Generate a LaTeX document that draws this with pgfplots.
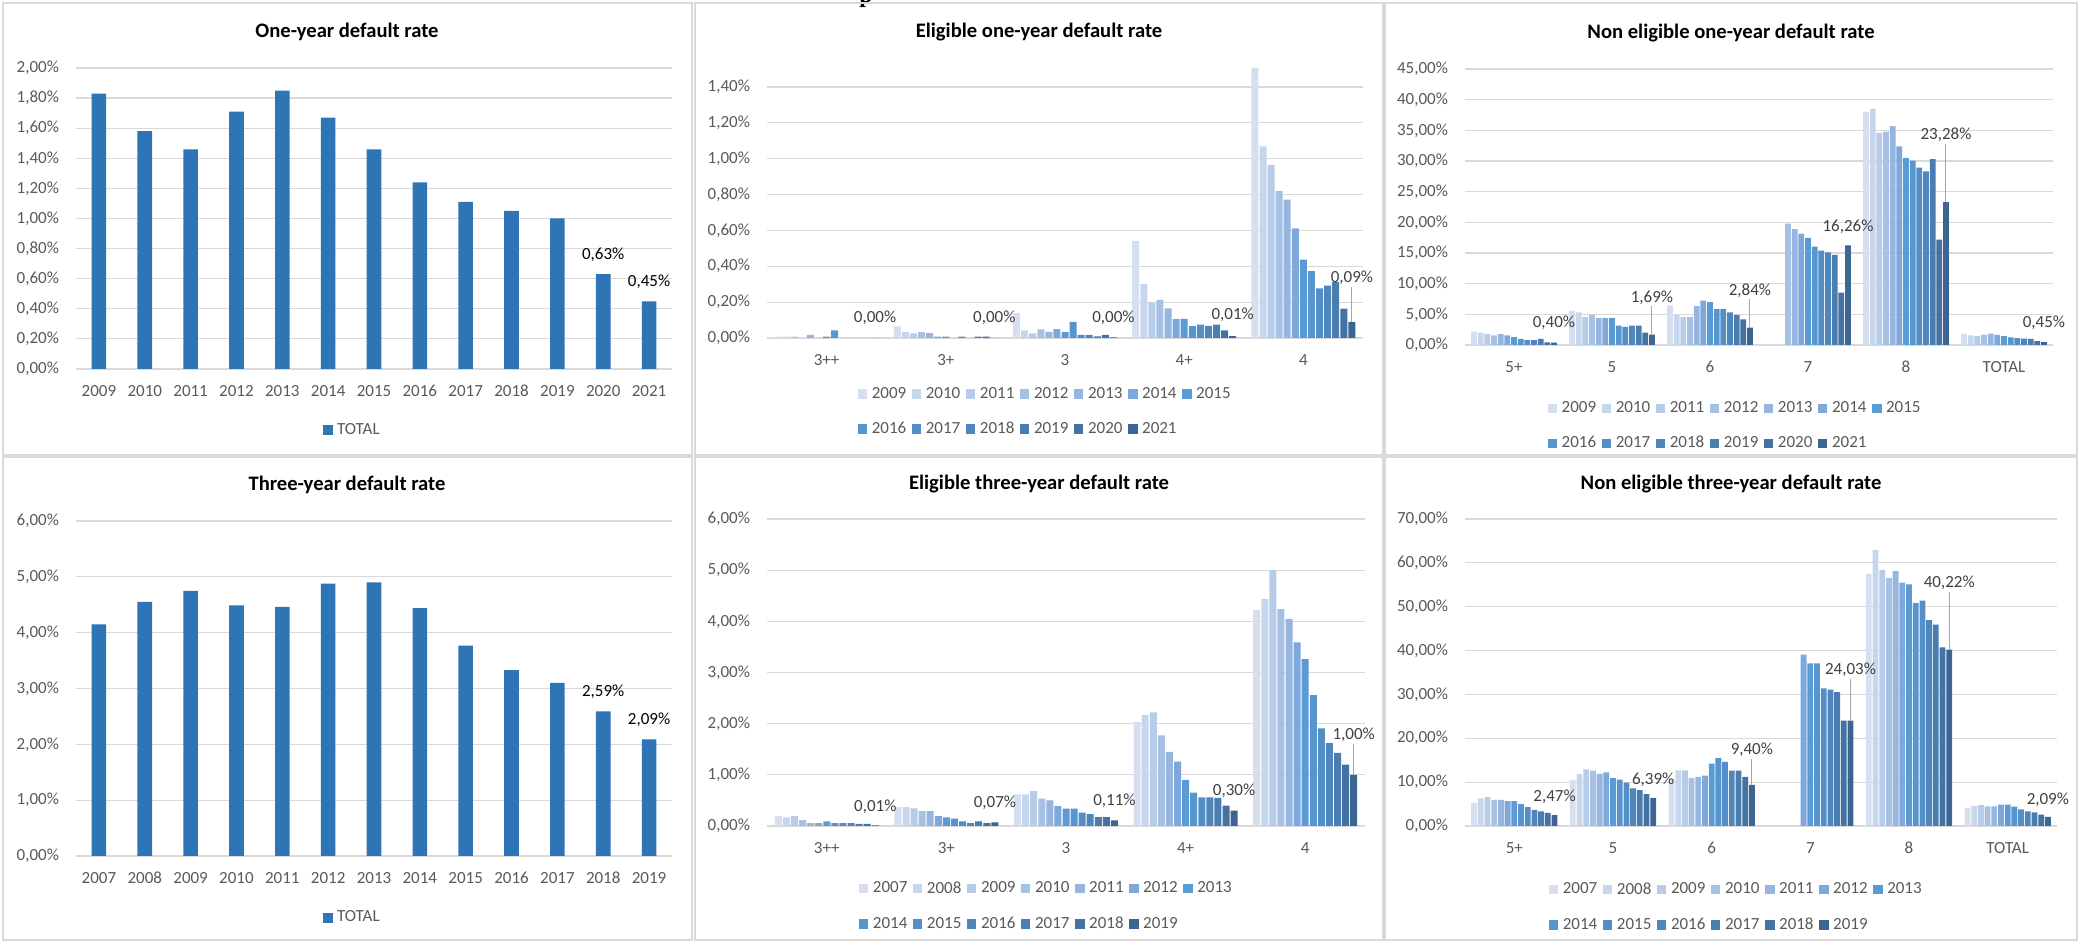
\documentclass[border=0pt]{standalone}
\usepackage{fontspec}
\setmainfont{Carlito}
\newfontfamily\headserif{Liberation Serif}
\usepackage{pgfplots}
\usepackage{pgfplotstable}
\pgfplotsset{compat=1.18}

\definecolor{c0}{HTML}{D5DFF0}
\definecolor{c1}{HTML}{C6D6EC}
\definecolor{c2}{HTML}{B7CCE8}
\definecolor{c3}{HTML}{A7C1E4}
\definecolor{c4}{HTML}{96B5DF}
\definecolor{c5}{HTML}{7EA8DB}
\definecolor{c6}{HTML}{5B9BD5}
\definecolor{c7}{HTML}{5795CF}
\definecolor{c8}{HTML}{538EC6}
\definecolor{c9}{HTML}{4F86BC}
\definecolor{c10}{HTML}{4A7DB0}
\definecolor{c11}{HTML}{4472A2}
\definecolor{c12}{HTML}{3C6691}
\definecolor{tot}{HTML}{2E75B6}
\definecolor{gridc}{HTML}{D9D9D9}
\definecolor{tickc}{HTML}{595959}
\definecolor{labc}{HTML}{404040}
\definecolor{leader}{HTML}{A6A6A6}

\newcommand\tickfont{\fontsize{8.5}{10}\selectfont}
\newcommand\titlefont{\fontsize{10.3}{12}\selectfont\bfseries}

% ---------------- data ----------------
\pgfplotstableread{
x v lab
0 1.83 {}
1 1.58 {}
2 1.46 {}
3 1.71 {}
4 1.85 {}
5 1.67 {}
6 1.46 {}
7 1.24 {}
8 1.11 {}
9 1.05 {}
10 1.00 {}
11 0.63 0,63\%
12 0.45 0,45\%
}\oneyear

\pgfplotstableread{
x v lab
0 4.15 {}
1 4.55 {}
2 4.75 {}
3 4.49 {}
4 4.46 {}
5 4.88 {}
6 4.90 {}
7 4.44 {}
8 3.77 {}
9 3.33 {}
10 3.10 {}
11 2.59 2,59\%
12 2.09 2,09\%
}\threeyear

% eligible one-year: 3++, 3+, 3, 4+, 4 ; series 2009..2021 = c0..c12
\pgfplotstableread{
x c0 c1 c2 c3 c4 c5 c6 c7 c8 c9 c10 c11 c12 lo el
0 0.007 0.007 0.007 nan 0.017 nan 0.008 0.042 nan nan nan nan 0 6.5 0
1 0.065 0.033 0.026 0.033 0.027 0.008 0.008 nan 0.008 nan 0.008 0.008 0 6.5 0
2 0.138 0.043 0.026 0.048 0.034 0.049 0.033 0.090 0.017 0.017 0.009 0.017 0.004 6 0
3 0.54 0.30 0.197 0.212 0.165 0.106 0.106 0.066 0.074 0.068 0.074 0.043 0.01 7 0
4 1.506 1.068 0.964 0.819 0.772 0.611 0.437 0.373 0.277 0.292 0.312 0.164 0.09 18.5 0.195
}\eligone

% non eligible one-year: 5+, 5, 6, 7, 8, TOTAL ; series 2009..2021
\pgfplotstableread{
x c0 c1 c2 c3 c4 c5 c6 c7 c8 c9 c10 c11 c12 lo el
0 2.17 2.00 1.78 1.56 1.78 1.56 1.28 1.00 0.80 0.80 1.00 0.42 0.40 6 0
1 5.60 5.33 4.60 4.90 4.40 4.40 4.40 3.17 2.95 3.17 3.17 2.00 1.69 15 4.6
2 6.44 4.90 4.60 4.60 6.33 7.25 7.00 5.83 5.83 5.33 4.90 4.17 2.84 15 4.6
3 nan nan nan 19.80 18.90 18.15 17.45 16.05 15.40 15.10 14.70 8.55 16.26 5.5 0
4 38.00 38.50 34.60 34.80 35.70 32.40 30.50 30.05 28.90 28.30 30.30 17.20 23.28 30 9.5
5 1.83 1.58 1.46 1.71 1.85 1.67 1.46 1.24 1.11 1.05 1.00 0.63 0.45 6 0
}\neligone

% eligible three-year: 3++, 3+, 3, 4+, 4 ; series 2007..2019
\pgfplotstableread{
x c0 c1 c2 c3 c4 c5 c6 c7 c8 c9 c10 c11 c12 lo el
0 0.194 0.168 0.194 0.116 0.058 0.058 0.090 0.058 0.058 0.058 0.040 0.040 0.01 5.5 0
1 0.368 0.368 0.342 0.290 0.290 0.194 0.168 0.142 0.090 0.058 0.090 0.058 0.07 6.3 0
2 0.62 0.62 0.68 0.535 0.50 0.39 0.34 0.34 0.26 0.23 0.175 0.175 0.11 6 0
3 2.03 2.17 2.22 1.77 1.45 1.26 0.90 0.65 0.56 0.56 0.55 0.40 0.30 6.5 0
4 4.22 4.44 5.00 4.24 4.05 3.59 3.26 2.56 1.91 1.62 1.43 1.20 1.00 16.5 0.61
}\eligthree

% non eligible three-year: 5+, 5, 6, 7, 8, TOTAL ; series 2007..2019
\pgfplotstableread{
x c0 c1 c2 c3 c4 c5 c6 c7 c8 c9 c10 c11 c12 lo el
0 5.30 6.30 6.60 5.95 5.95 5.65 5.65 5.00 4.30 3.65 3.35 3.00 2.47 5.5 0
1 10.50 11.90 12.90 12.60 11.90 12.20 10.90 10.60 9.90 8.60 8.20 7.25 6.39 5.3 0
2 10.70 12.70 12.70 10.90 11.20 11.50 14.20 15.50 14.60 12.60 12.60 11.20 9.40 14 5.9
3 nan nan nan nan nan 39.05 37.10 37.10 31.40 31.10 30.50 24.00 24.03 21.7 9.4
4 57.50 62.90 58.40 56.50 58.10 55.50 55.10 50.90 51.40 46.96 45.90 40.70 40.22 30 13.2
5 4.15 4.55 4.75 4.49 4.46 4.88 4.90 4.44 3.77 3.33 3.10 2.59 2.09 5 0
}\neligthree

\pgfplotsset{
  base/.style={
    scale only axis,
    axis line style={draw=none},
    tick style={draw=none},
    major tick length=0pt,
    ymajorgrids,
    grid style={draw=gridc, line width=0.6pt},
    ymin=0,
    scaled y ticks=false,
    tick label style={font=\tickfont, text=tickc},
    yticklabel={\pgfmathprintnumber[fixed,fixed zerofill,precision=2,use comma,assume math mode=true]{\tick}\%},
    yticklabel style={anchor=east, xshift=-5pt},
    xticklabel style={anchor=base, yshift=-14pt},
    legend cell align=left,
    legend style={draw=none, fill=none, inner sep=0pt, outer sep=0pt,
      font=\tickfont, text=tickc,
      /tikz/column sep=0pt, /tikz/row sep=10.3pt,
      /tikz/every odd column/.append style={column sep=2.3pt},
      /tikz/every even column/.append style={column sep=2.9pt},
      nodes={inner sep=0pt}, anchor=north west},
  },
  sq/.style={legend image code/.code={\fill[##1] (0pt,-2.3pt) rectangle (4.6pt,2.3pt);}},
  totstyle/.style={
    base, ybar, bar width=7.3pt, xmin=-0.5, xmax=12.5, xtick={0,...,12},
    legend style={anchor=west},
  },
  multi/.style={base, legend columns=7},
  lastlab/.style={
    point meta=y,
    visualization depends on={\thisrow{lo} \as \myoff},
    nodes near coords={\pgfmathprintnumber[fixed,fixed zerofill,precision=2,use comma,assume math mode=true]{\pgfplotspointmeta}\%},
    every node near coord/.append style={font=\tickfont, text=labc, anchor=south, inner sep=0pt, yshift=\myoff pt},
    /pgfplots/error bars/y dir=plus,
    /pgfplots/error bars/y explicit,
    /pgfplots/error bars/error mark=none,
    /pgfplots/error bars/error bar style={draw=leader, line width=0.5pt},
  },
  totlab/.style={
    point meta=explicit symbolic,
    nodes near coords={\pgfplotspointmeta},
    every node near coord/.append style={font=\tickfont, text=black, anchor=south, inner sep=0pt, yshift=6pt},
  },
}

\begin{document}
\begin{tikzpicture}
\path[use as bounding box] (0,0) rectangle (1042.5pt,471pt);

% cut-off heading fragment at the very top
\node[font=\headserif\bfseries\fontsize{12}{14}\selectfont, anchor=base west, inner sep=0pt] at (429.5pt,469.6pt) {p};

% panel borders
\begin{scope}[draw=gridc, line width=0.8pt]
\draw (1.5pt,243.5pt) rectangle (346pt,469.5pt);
\draw (347.5pt,243.5pt) rectangle (691.5pt,469.5pt);
\draw (692.5pt,243.5pt) rectangle (1038.5pt,469.5pt);
\draw (1.5pt,1pt) rectangle (346pt,242.5pt);
\draw (347.5pt,1pt) rectangle (691.5pt,242.5pt);
\draw (692.5pt,1pt) rectangle (1038.5pt,242.5pt);
\end{scope}

% titles
\node[font=\titlefont, anchor=base] at (173.5pt,452pt) {One-year default rate};
\node[font=\titlefont, anchor=base] at (519.5pt,452pt) {Eligible one-year default rate};
\node[font=\titlefont, anchor=base] at (865.5pt,451.5pt) {Non eligible one-year default rate};
\node[font=\titlefont, anchor=base] at (173.5pt,225.5pt) {Three-year default rate};
\node[font=\titlefont, anchor=base] at (519.5pt,226pt) {Eligible three-year default rate};
\node[font=\titlefont, anchor=base] at (865.5pt,226pt) {Non eligible three-year default rate};

% ---- Panel 1: One-year default rate
\begin{axis}[totstyle, at={(38pt,286.5pt)}, anchor=south west, width=298pt, height=150.5pt,
  ymax=2, ytick={0,0.2,0.4,0.6,0.8,1,1.2,1.4,1.6,1.8,2},
  xticklabels={2009,2010,2011,2012,2013,2014,2015,2016,2017,2018,2019,2020,2021},
  legend style={at={(0.415,-0.2027)}}]
\addplot[fill=tot, draw=none, sq, totlab] table[x=x, y=v, meta=lab]{\oneyear};
\legend{TOTAL}
\end{axis}

% ---- Panel 4: Three-year default rate
\begin{axis}[totstyle, at={(38pt,43pt)}, anchor=south west, width=298pt, height=167.5pt,
  ymax=6, ytick={0,1,2,3,4,5,6},
  xticklabels={2007,2008,2009,2010,2011,2012,2013,2014,2015,2016,2017,2018,2019},
  legend style={at={(0.415,-0.185)}}]
\addplot[fill=tot, draw=none, sq, totlab] table[x=x, y=v, meta=lab]{\threeyear};
\legend{TOTAL}
\end{axis}

% ---- Panel 2: Eligible one-year
\begin{axis}[multi, ybar=0.54pt, bar width=3.5pt, at={(383.5pt,302pt)}, anchor=south west,
  width=298pt, height=136.3pt, ymax=1.52, ytick={0,0.2,0.4,0.6,0.8,1,1.2,1.4},
  xmin=-0.5, xmax=4.5, xtick={0,...,4}, xticklabels={3++,3+,3,4+,4},
  legend style={at={(0.1527,-0.18)}},
  legend entries={2009,2010,2011,2012,2013,2014,2015,2016,2017,2018,2019,2020,2021}]
\pgfplotsinvokeforeach{c0,c1,c2,c3,c4,c5,c6,c7,c8,c9,c10,c11}{\addplot[fill=#1, draw=none, sq] table[x=x,y=#1]{\eligone};}
\addplot[fill=c12, draw=none, sq, lastlab] table[x=x,y=c12,y error=el]{\eligone};
\end{axis}

% ---- Panel 3: Non eligible one-year
\begin{axis}[multi, ybar=0.45pt, bar width=2.88pt, at={(732.5pt,298.5pt)}, anchor=south west,
  width=294pt, height=138pt, ymax=45, ytick={0,5,10,15,20,25,30,35,40,45},
  xmin=-0.5, xmax=5.5, xtick={0,...,5}, xticklabels={5+,5,6,7,8,TOTAL},
  legend style={at={(0.141,-0.205)}},
  legend entries={2009,2010,2011,2012,2013,2014,2015,2016,2017,2018,2019,2020,2021}]
\pgfplotsinvokeforeach{c0,c1,c2,c3,c4,c5,c6,c7,c8,c9,c10,c11}{\addplot[fill=#1, draw=none, sq] table[x=x,y=#1]{\neligone};}
\addplot[fill=c12, draw=none, sq, lastlab] table[x=x,y=c12,y error=el]{\neligone};
\end{axis}

% ---- Panel 5: Eligible three-year
\begin{axis}[multi, ybar=0.54pt, bar width=3.5pt, at={(383.5pt,58pt)}, anchor=south west,
  width=299pt, height=153.5pt, ymax=6, ytick={0,1,2,3,4,5,6},
  xmin=-0.5, xmax=4.5, xtick={0,...,4}, xticklabels={3++,3+,3,4+,4},
  legend style={at={(0.154,-0.181)}},
  legend entries={2007,2008,2009,2010,2011,2012,2013,2014,2015,2016,2017,2018,2019}]
\pgfplotsinvokeforeach{c0,c1,c2,c3,c4,c5,c6,c7,c8,c9,c10,c11}{\addplot[fill=#1, draw=none, sq] table[x=x,y=#1]{\eligthree};}
\addplot[fill=c12, draw=none, sq, lastlab] table[x=x,y=c12,y error=el]{\eligthree};
\end{axis}

% ---- Panel 6: Non eligible three-year
\begin{axis}[multi, ybar=0.45pt, bar width=2.9pt, at={(732.5pt,58pt)}, anchor=south west,
  width=296pt, height=153.5pt, ymax=70, ytick={0,10,20,30,40,50,60,70},
  xmin=-0.5, xmax=5.5, xtick={0,...,5}, xticklabels={5+,5,6,7,8,TOTAL},
  legend style={at={(0.142,-0.184)}},
  legend entries={2007,2008,2009,2010,2011,2012,2013,2014,2015,2016,2017,2018,2019}]
\pgfplotsinvokeforeach{c0,c1,c2,c3,c4,c5,c6,c7,c8,c9,c10,c11}{\addplot[fill=#1, draw=none, sq] table[x=x,y=#1]{\neligthree};}
\addplot[fill=c12, draw=none, sq, lastlab] table[x=x,y=c12,y error=el]{\neligthree};
\end{axis}
\end{tikzpicture}
\end{document}
